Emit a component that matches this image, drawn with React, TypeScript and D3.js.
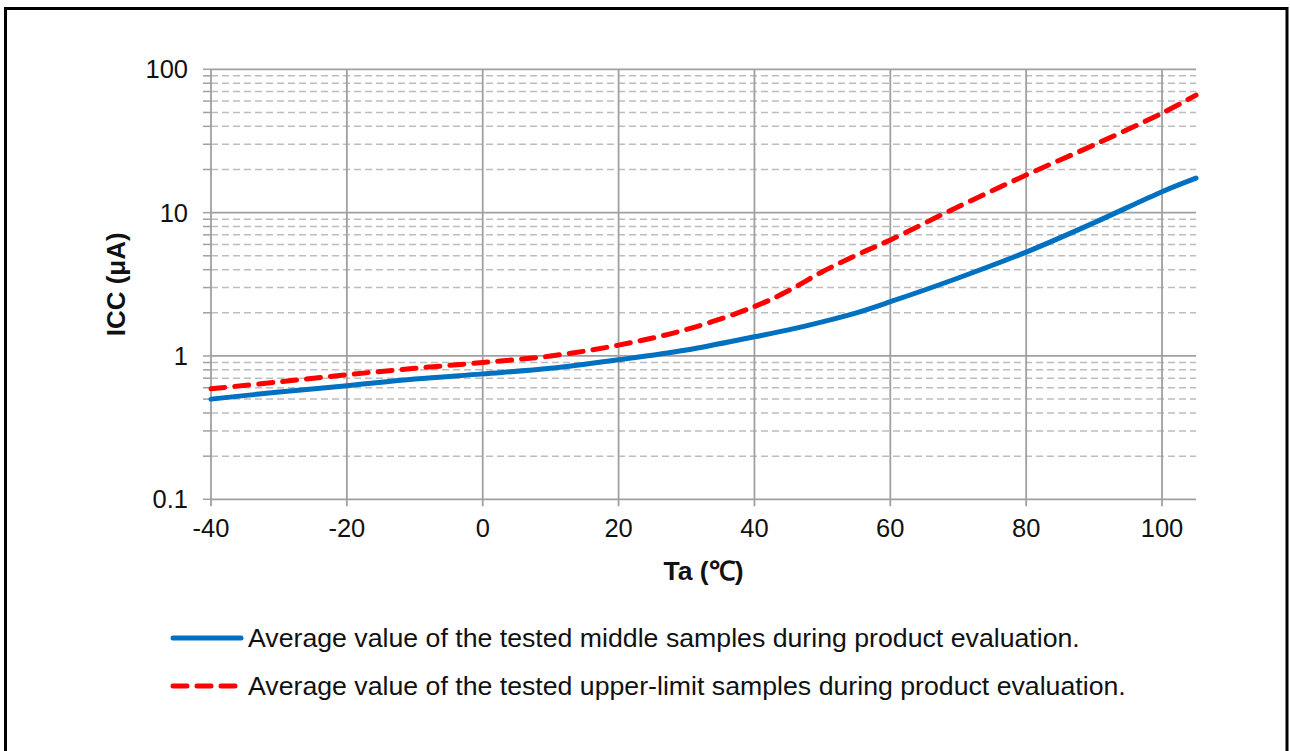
import { useEffect, useRef } from 'react';
import * as d3 from 'd3';

// Ta (°C) sample points
const temps = [-40, -30, -20, -10, 0, 10, 20, 30, 40, 45, 50, 55, 60, 70, 80, 90, 100, 105];
// ICC (uA) - middle samples average
const middleValues = [0.5, 0.56, 0.62, 0.69, 0.75, 0.82, 0.94, 1.1, 1.36, 1.52, 1.73, 2.0, 2.39, 3.5, 5.3, 8.5, 14.0, 17.4];
// ICC (uA) - upper-limit samples average
const upperValues = [0.59, 0.66, 0.74, 0.82, 0.9, 1.0, 1.19, 1.53, 2.21, 2.85, 3.87, 5.05, 6.45, 11.0, 18.3, 29.7, 49.4, 66];

const xTicks = [-40, -20, 0, 20, 40, 60, 80, 100];
const yMajorTicks = [0.1, 1, 10, 100];
const yTickLabels = ['0.1', '1', '10', '100'];

const legendLabels = [
  'Average value of the tested middle samples during product evaluation.',
  'Average value of the tested upper-limit samples during product evaluation.',
];

const W = 1290;
const H = 751;
const FONT = 'Arial, "Liberation Sans", Helvetica, sans-serif';

export default function App() {
  const svgRef = useRef<SVGSVGElement>(null);

  useEffect(() => {
    if (!svgRef.current) return;
    const svg = d3.select(svgRef.current);
    svg.selectAll('*').remove();

    const left = 211;
    const right = 1196;
    const top = 69.3;
    const bottom = 499.3;

    const x = d3.scaleLinear().domain([-40, 105]).range([left, right]);
    const y = d3.scaleLog().domain([0.1, 100]).range([bottom, top]);

    // outer frame
    svg.append('rect')
      .attr('x', 5.5)
      .attr('y', 8.5)
      .attr('width', 1281.5)
      .attr('height', 760)
      .attr('fill', 'none')
      .attr('stroke', '#000')
      .attr('stroke-width', 3);

    // minor log grid (2..9 per decade)
    const minor: number[] = [];
    for (const d of [0.1, 1, 10]) {
      for (let k = 2; k <= 9; k++) minor.push(+(d * k).toPrecision(3));
    }

    const grid = svg.append('g');

    grid.selectAll('.minor')
      .data(minor)
      .join('line')
      .attr('class', 'minor')
      .attr('x1', left)
      .attr('x2', right)
      .attr('y1', d => y(d))
      .attr('y2', d => y(d))
      .attr('stroke', '#bdbdbd')
      .attr('stroke-width', 1.5)
      .attr('stroke-dasharray', '7 4');

    // small tick marks on the y axis for every grid line
    grid.selectAll('.ytick')
      .data([...minor, ...yMajorTicks])
      .join('line')
      .attr('class', 'ytick')
      .attr('x1', left - 8)
      .attr('x2', left)
      .attr('y1', d => y(d))
      .attr('y2', d => y(d))
      .attr('stroke', '#a0a0a0')
      .attr('stroke-width', 1.5);

    grid.selectAll('.major')
      .data(yMajorTicks)
      .join('line')
      .attr('class', 'major')
      .attr('x1', left)
      .attr('x2', right)
      .attr('y1', d => y(d))
      .attr('y2', d => y(d))
      .attr('stroke', '#a0a0a0')
      .attr('stroke-width', 1.8);

    grid.selectAll('.vline')
      .data(xTicks)
      .join('line')
      .attr('class', 'vline')
      .attr('x1', d => x(d))
      .attr('x2', d => x(d))
      .attr('y1', top)
      .attr('y2', bottom + 7)
      .attr('stroke', '#a0a0a0')
      .attr('stroke-width', 1.8);

    // tick labels
    svg.append('g')
      .selectAll('text')
      .data(yMajorTicks)
      .join('text')
      .attr('x', 188)
      .attr('y', d => y(d))
      .attr('dy', '0.35em')
      .attr('text-anchor', 'end')
      .style('font-family', FONT)
      .style('font-size', '25.5px')
      .style('fill', '#111')
      .text((d, i) => yTickLabels[i]);

    svg.append('g')
      .selectAll('text')
      .data(xTicks)
      .join('text')
      .attr('x', d => x(d))
      .attr('y', 537)
      .attr('text-anchor', 'middle')
      .style('font-family', FONT)
      .style('font-size', '25.5px')
      .style('fill', '#111')
      .text(d => String(d));

    // axis titles
    svg.append('text')
      .attr('transform', `translate(125, ${(top + bottom) / 2}) rotate(-90)`)
      .attr('text-anchor', 'middle')
      .style('font-family', FONT)
      .style('font-size', '26px')
      .style('font-weight', 'bold')
      .style('fill', '#111')
      .text('ICC (μA)');

    svg.append('text')
      .attr('x', (left + right) / 2)
      .attr('y', 580)
      .attr('text-anchor', 'middle')
      .style('font-family', FONT)
      .style('font-size', '26.5px')
      .style('font-weight', 'bold')
      .style('fill', '#111')
      .text('Ta (℃)');

    // series
    const line = d3.line<number>()
      .x((d, i) => x(temps[i]))
      .y(d => y(d))
      .curve(d3.curveCatmullRom.alpha(0.5));

    const plot = svg.append('g');

    plot.append('path')
      .datum(middleValues)
      .attr('fill', 'none')
      .attr('stroke', '#0070c0')
      .attr('stroke-width', 5)
      .attr('stroke-linecap', 'round')
      .attr('d', line);

    plot.append('path')
      .datum(upperValues)
      .attr('fill', 'none')
      .attr('stroke', '#ff0000')
      .attr('stroke-width', 5)
      .attr('stroke-linecap', 'round')
      .attr('stroke-dasharray', '14 10')
      .attr('d', line);

    // legend
    const legend = svg.append('g');
    const legendY = [638, 686];
    const legendColors = ['#0070c0', '#ff0000'];
    const legendDash = [null, '14 10'];

    legendLabels.forEach((label, i) => {
      legend.append('line')
        .attr('x1', 173)
        .attr('x2', 241)
        .attr('y1', legendY[i])
        .attr('y2', legendY[i])
        .attr('stroke', legendColors[i])
        .attr('stroke-width', 5)
        .attr('stroke-linecap', 'round')
        .attr('stroke-dasharray', legendDash[i]);

      legend.append('text')
        .attr('x', 248)
        .attr('y', legendY[i] + 9)
        .style('font-family', FONT)
        .style('font-size', '26.7px')
        .style('fill', '#111')
        .text(label);
    });
  }, []);

  return (
    <div style={{ position: 'fixed', left: 0, top: 0, width: W, height: H, background: '#fff' }}>
      <svg ref={svgRef} width={W} height={H} />
    </div>
  );
}
